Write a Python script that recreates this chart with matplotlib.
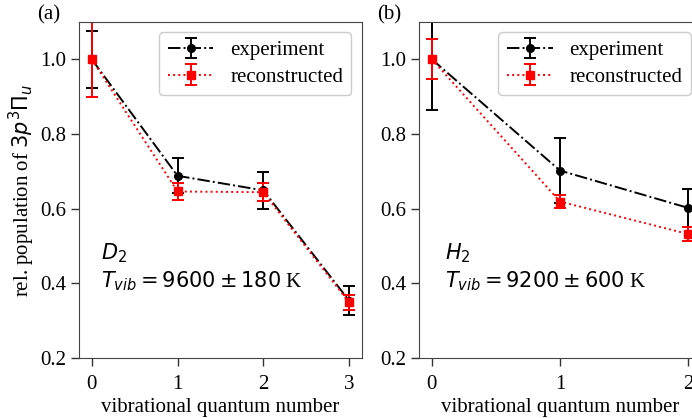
import matplotlib
matplotlib.use("Agg")
import matplotlib.pyplot as plt

plt.rcParams['font.family'] = ['Liberation Serif', 'DejaVu Serif']
plt.rcParams['mathtext.fontset'] = 'dejavusans'

#### data ####
v_d2 = [0, 1, 2, 3]
exp_d2 = [1.0, 0.688, 0.649, 0.354]
exp_d2_err = [0.076, 0.047, 0.05, 0.04]
rec_d2 = [1.0, 0.646, 0.644, 0.349]
rec_d2_err = [0.1, 0.022, 0.024, 0.02]

v_h2 = [0, 1, 2]
exp_h2 = [1.0, 0.702, 0.602]
exp_h2_err = [0.136, 0.087, 0.05]
rec_h2 = [1.0, 0.619, 0.532]
rec_h2_err = [0.053, 0.018, 0.019]

panels = ['(a)', '(b)']
molecules = ['$D_2$', '$H_2$']
tvib_text = ['$T_{vib} = 9600 \\pm 180$ K', '$T_{vib} = 9200 \\pm 600$ K']

fs = 15

fig = plt.figure(figsize=(6.92, 4.18), dpi=100)
ax1 = fig.add_axes([0.114, 0.1435, 0.409, 0.804])
ax2 = fig.add_axes([0.6055, 0.1435, 0.4075, 0.804])

data = [(ax1, v_d2, exp_d2, exp_d2_err, rec_d2, rec_d2_err, (-0.15, 3.15), 0.078),
        (ax2, v_h2, exp_h2, exp_h2_err, rec_h2, rec_h2_err, (-0.1, 2.1), 0.092)]

for i, (ax, v, e, ee, r, re, xl, tx) in enumerate(data):
    ax.errorbar(v, e, yerr=ee, fmt='o', ls='-.', color='black', ms=5.5,
                lw=1.4, capsize=4.5, elinewidth=1.4, capthick=1.4,
                label='experiment')
    ax.errorbar(v, r, yerr=re, fmt='s', ls=':', color='red', ms=6,
                lw=1.4, capsize=4.5, elinewidth=1.4, capthick=1.4,
                label='reconstructed')
    ax.set_xlim(*xl)
    ax.set_ylim(0.2, 1.1)
    ax.set_xticks(v)
    ax.set_yticks([0.2, 0.4, 0.6, 0.8, 1.0])
    ax.tick_params(direction='out', length=6, width=1, labelsize=fs,
                   colors='#333333', labelcolor='black', pad=3)
    ax.tick_params(axis='x', pad=6)
    for s in ax.spines.values():
        s.set_color('#444444')
    ax.set_xlabel('vibrational quantum number', fontsize=fs, labelpad=3)
    ax.legend(loc='upper right', fontsize=fs, handlelength=2.2,
              borderaxespad=0.5, framealpha=1, edgecolor='#cccccc',
              borderpad=0.4, labelspacing=0.35, handletextpad=0.8)
    ax.text(tx, 0.27, molecules[i] + '\n' + tvib_text[i],
            transform=ax.transAxes, fontsize=fs, va='center', ha='left',
            linespacing=1.25)
    ax.text(-0.148, 1.02, panels[i], transform=ax.transAxes, fontsize=fs,
            va='center', ha='left')

ax1.set_ylabel('rel. population of $3p^3\\Pi_u$', fontsize=fs, labelpad=2)

fig.savefig('out.png', dpi=100)
